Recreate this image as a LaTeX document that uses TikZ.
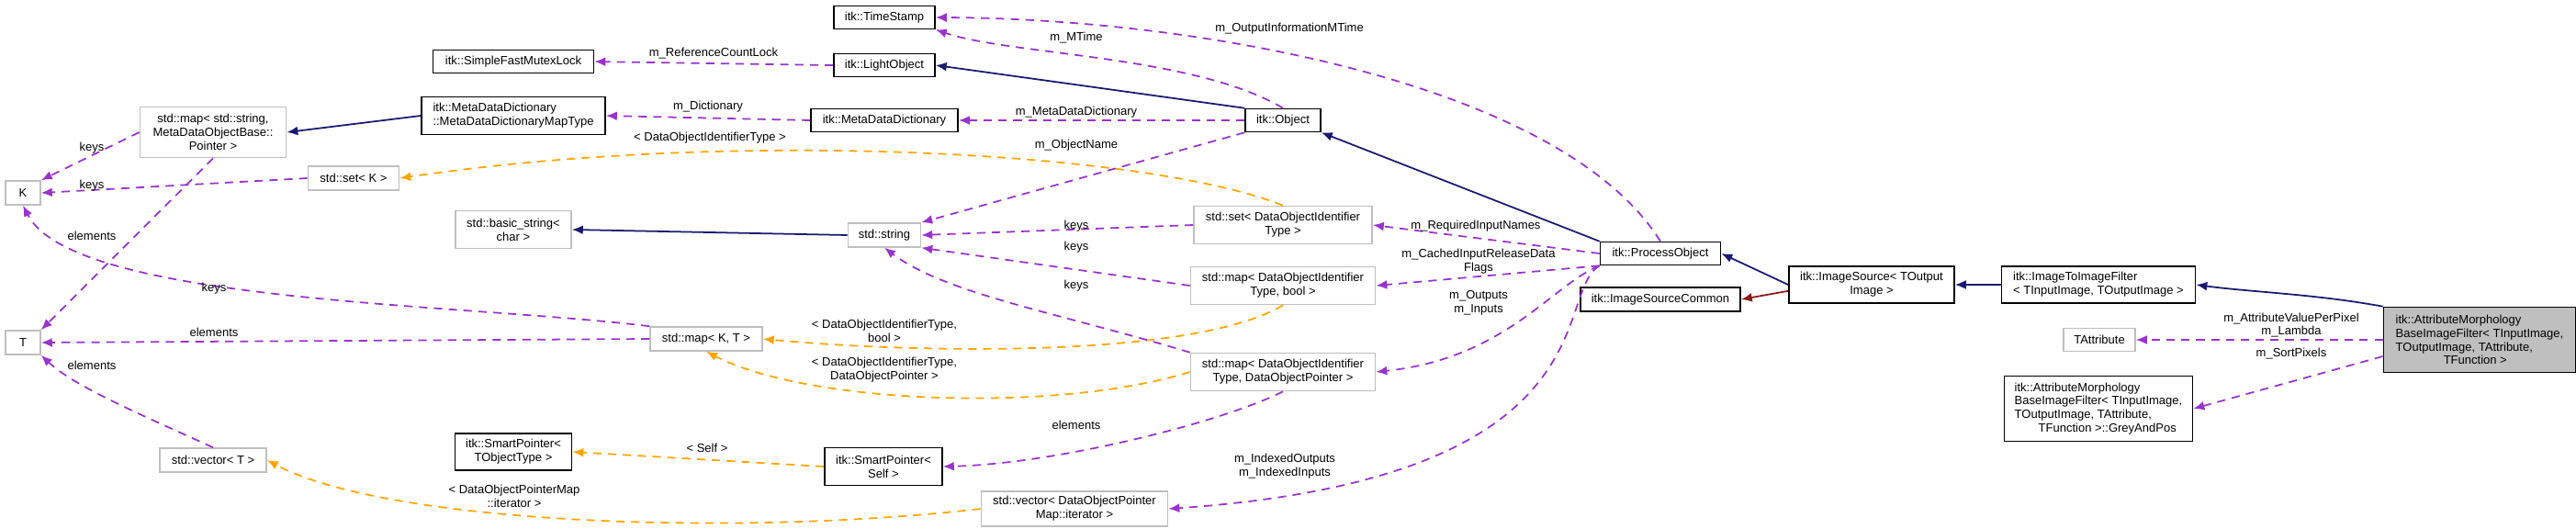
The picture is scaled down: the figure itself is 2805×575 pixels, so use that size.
\documentclass[tikz,border=0pt]{standalone}
\usepackage{fontspec}
\setmainfont{Liberation Sans}
\usetikzlibrary{arrows.meta, positioning}
\definecolor{inh}{HTML}{191970}
\definecolor{use}{HTML}{9A32CD}
\definecolor{tpl}{HTML}{FFA500}
\definecolor{prot}{HTML}{8B1A1A}
\definecolor{undoc}{HTML}{BFBFBF}
\begin{document}
\begin{tikzpicture}[x=0.01cm,y=-0.01cm,>={Latex[length=3.4pt,width=2.8pt]},
    font=\fontsize{3.7}{4.2}\selectfont,
    cls/.style={draw=black,line width=0.45pt,inner sep=0.5pt,align=center},
    ext/.style={draw=undoc,line width=0.45pt,inner sep=0.5pt,align=center},
    base/.style={->,draw=inh,line width=0.5pt},
    member/.style={->,draw=use,line width=0.5pt,dash pattern=on 2.6pt off 2pt},
    templ/.style={->,draw=tpl,line width=0.5pt,dash pattern=on 2.6pt off 2pt},
    lbl/.style={inner sep=0pt,align=center}]
\useasboundingbox (0,0) rectangle (2805,575);

\node[cls, minimum width=1.10cm, minimum height=0.25cm] (ts)      at (963,19)   {itk::TimeStamp};
\node[cls, minimum width=1.10cm, minimum height=0.25cm] (lo)      at (963,71)   {itk::LightObject};
\node[cls, minimum width=1.60cm, minimum height=0.25cm] (mdd)     at (963,131)  {itk::MetaDataDictionary};
\node[cls, minimum width=0.82cm, minimum height=0.25cm] (obj)     at (1397,131) {itk::Object};
\node[cls, minimum width=1.75cm, minimum height=0.25cm] (lock)    at (559,67)   {itk::SimpleFastMutexLock};
\node[cls, minimum width=2.00cm, minimum height=0.41cm, align=left] (maptype) at (559,126) {itk::MetaDataDictionary\\::MetaDataDictionaryMapType};
\node[ext, minimum width=1.59cm, minimum height=0.55cm] (mapstr)  at (232,144)  {std::map< std::string,\\MetaDataObjectBase::\\Pointer >};
\node[ext, minimum width=0.38cm, minimum height=0.26cm] (K)       at (25,210)   {K};
\node[ext, minimum width=0.99cm, minimum height=0.26cm] (setk)    at (385,194)  {std::set< K >};
\node[ext, minimum width=1.26cm, minimum height=0.41cm] (bstr)    at (559,250)  {std::basic\_string<\\char >};
\node[ext, minimum width=0.38cm, minimum height=0.26cm] (T)       at (25,373)   {T};
\node[ext, minimum width=1.22cm, minimum height=0.26cm] (mapkt)   at (769,369)  {std::map< K, T >};
\node[ext, minimum width=1.16cm, minimum height=0.26cm] (vect)    at (232,501)  {std::vector< T >};
\node[cls, minimum width=1.27cm, minimum height=0.40cm] (sptype)  at (559,492)  {itk::SmartPointer<\\TObjectType >};
\node[ext, minimum width=0.79cm, minimum height=0.26cm] (str)     at (963,256)  {std::string};
\node[ext, minimum width=1.94cm, minimum height=0.41cm] (setdoi)  at (1397,245) {std::set< DataObjectIdentifier\\Type >};
\node[ext, minimum width=2.01cm, minimum height=0.41cm] (mapbool) at (1397,311) {std::map< DataObjectIdentifier\\Type, bool >};
\node[ext, minimum width=2.01cm, minimum height=0.41cm] (mapdop)  at (1397,405) {std::map< DataObjectIdentifier\\Type, DataObjectPointer >};
\node[cls, minimum width=1.28cm, minimum height=0.41cm] (spself)  at (962,508)  {itk::SmartPointer<\\Self >};
\node[ext, minimum width=2.03cm, minimum height=0.38cm] (vecdop)  at (1170,554) {std::vector< DataObjectPointer\\Map::iterator >};
\node[cls, minimum width=1.31cm, minimum height=0.25cm] (po)      at (1808,276) {itk::ProcessObject};
\node[cls, minimum width=1.74cm, minimum height=0.26cm] (isc)     at (1808,326) {itk::ImageSourceCommon};
\node[cls, minimum width=1.80cm, minimum height=0.40cm] (is)      at (2038,310) {itk::ImageSource< TOutput\\Image >};
\node[cls, minimum width=2.11cm, minimum height=0.40cm, align=left] (itif) at (2285,310) {itk::ImageToImageFilter\\< TInputImage, TOutputImage >};
\node[cls, minimum width=2.09cm, minimum height=0.71cm, fill=undoc, align=left] (amb) at (2700,370) {itk::AttributeMorphology\\BaseImageFilter< TInputImage,\\ TOutputImage, TAttribute,\\ \qquad\qquad TFunction >};
\node[ext, minimum width=0.78cm, minimum height=0.25cm] (tattr)   at (2286,370) {TAttribute};
\node[cls, minimum width=2.05cm, minimum height=0.71cm, align=left] (gap) at (2285,445) {itk::AttributeMorphology\\BaseImageFilter< TInputImage,\\ TOutputImage, TAttribute,\\ \qquad TFunction >::GreyAndPos};

% left part
\draw[member] (lo.west) -- (lock.east);
\draw[member] (mdd.west) -- (maptype.east);
\draw[base] (maptype.west) -- (mapstr.east);
\draw[member] (mapstr.west) -- (K.north east);
\draw[member] (mapstr.south) -- (T.north east);
\draw[member] (setk.west) -- (K.east);
\draw[templ] (setdoi.north) .. controls (1250,165) and (800,140) .. (setk.east);
\draw[base] (str.west) -- (bstr.east);
\draw[member] (mapkt.north west) .. controls (500,330) and (80,330) .. (K.south);
\draw[member] (mapkt.west) -- (T.east);
\draw[member] (vect.north) .. controls (150,450) and (80,420) .. (T.south east);
\draw[templ] (mapbool.south) .. controls (1300,390) and (1000,385) .. (mapkt.east);
\draw[templ] (mapdop.west) .. controls (1150,450) and (880,440) .. (mapkt.south);
\draw[templ] (spself.west) -- (sptype.east);
\draw[templ] (vecdop.west) .. controls (800,585) and (420,570) .. (vect.east);

% itk::Object and friends
\draw[member] (obj.north) .. controls (1300,60) and (1100,60) .. (ts.south east);
\draw[base] (obj.north west) -- (lo.east);
\draw[member] (obj.west) -- (mdd.east);
\draw[member] (obj.south west) -- (str.north east);
\draw[member] (setdoi.west) -- (str.east);
\draw[member] (mapbool.west) -- (str.south east);
\draw[member] (mapdop.north west) .. controls (1150,340) and (1030,320) .. (str.south);
\draw[member] (mapdop.south) .. controls (1330,460) and (1150,505) .. (spself.east);

% itk::ProcessObject
\draw[member] (po.north) .. controls (1700,90) and (1300,20) .. (ts.east);
\draw[base] (po.north west) -- (obj.south east);
\draw[member] (po.west) -- (setdoi.east);
\draw[member] (po.south west) -- (mapbool.east);
\draw[member] (po.south west) .. controls (1690,310) and (1640,390) .. (mapdop.east);
\draw[member] (po.south west) .. controls (1690,320) and (1760,520) .. (vecdop.east);
\draw[base] (is.west) -- (po.east);
\draw[->,draw=prot,line width=0.5pt] (is.south west) ++(0,-14) -- (isc.east);
\draw[base] (itif.west) -- (is.east);
\draw[base] (amb.north west) .. controls (2520,320) and (2450,318) .. (itif.east);
\draw[member] (amb.west) -- (tattr.east);
\draw[member] (amb.west) ++(0,18) -- (gap.east);

% labels
\node[lbl] (lRef)   at (777,58)   {m\_ReferenceCountLock};
\node[lbl] (lDict)  at (771,116)  {m\_Dictionary};
\node[lbl] (lDoi)   at (773,150)  {< DataObjectIdentifierType >};
\node[lbl] (lK1)    at (100,161)  {keys};
\node[lbl] (lK2)    at (100,202)  {keys};
\node[lbl] (lE1)    at (100,257)  {elements};
\node[lbl] (lK3)    at (233,314)  {keys};
\node[lbl] (lE2)    at (233,362)  {elements};
\node[lbl] (lE3)    at (100,398)  {elements};
\node[lbl] (lIter)  at (560,540)  {< DataObjectPointerMap\\::iterator >};
\node[lbl] (lSelf)  at (770,488)  {< Self >};
\node[lbl] (lMT)    at (1172,41)  {m\_MTime};
\node[lbl] (lOIMT)  at (1404,31)  {m\_OutputInformationMTime};
\node[lbl] (lMDD)   at (1172,122) {m\_MetaDataDictionary};
\node[lbl] (lName)  at (1172,158) {m\_ObjectName};
\node[lbl] (lK4)    at (1172,246) {keys};
\node[lbl] (lK5)    at (1172,269) {keys};
\node[lbl] (lK6)    at (1172,311) {keys};
\node[lbl] (lReq)   at (1607,246) {m\_RequiredInputNames};
\node[lbl] (lCache) at (1610,285) {m\_CachedInputReleaseData\\Flags};
\node[lbl] (lOut)   at (1610,330) {m\_Outputs\\m\_Inputs};
\node[lbl] (lBool)  at (963,360)  {< DataObjectIdentifierType,\\bool >};
\node[lbl] (lDop)   at (963,403)  {< DataObjectIdentifierType,\\DataObjectPointer >};
\node[lbl] (lE4)    at (1172,463) {elements};
\node[lbl] (lIdx)   at (1399,508) {m\_IndexedOutputs\\m\_IndexedInputs};
\node[lbl] (lAttr)  at (2495,354) {m\_AttributeValuePerPixel\\m\_Lambda};
\node[lbl] (lSort)  at (2495,385) {m\_SortPixels};
\end{tikzpicture}
\end{document}
